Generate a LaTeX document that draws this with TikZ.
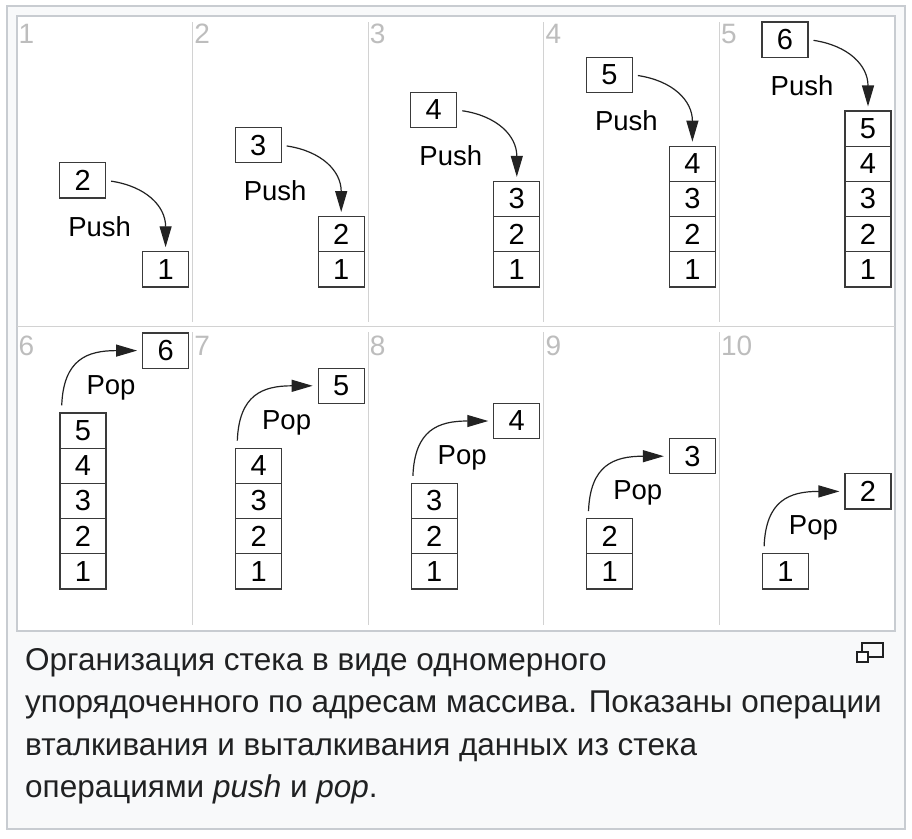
\documentclass[tikz,border=0pt]{standalone}
\usepackage{fontspec}
\setmainfont{Liberation Sans}
\usetikzlibrary{arrows.meta}
\definecolor{capbg}{HTML}{F8F9FA}
\definecolor{framec}{HTML}{C8CCD1}
\definecolor{divc}{HTML}{D2D2D2}
\definecolor{numc}{HTML}{BDBDBD}
\definecolor{ink}{HTML}{202122}
\definecolor{boxc}{HTML}{3A3A3A}
\definecolor{arrc}{HTML}{222222}
\begin{document}
\begin{tikzpicture}[x=1pt,y=-1pt,
  cell/.style={draw=boxc, line width=1.1pt, minimum width=46pt, minimum height=35.2pt, inner sep=0pt, font=\fontsize{29}{30}\selectfont, text=black},
  oparrow/.style={draw=arrc, line width=1.2pt, -{Triangle[length=21pt,width=12pt]}},
  oplabel/.style={anchor=base, inner sep=0pt, font=\fontsize{27.5}{30}\selectfont, text=black},
  panelnum/.style={anchor=base west, inner sep=0pt, text=numc, font=\fontsize{28}{30}\selectfont},
  divider/.style={draw=divc, line width=1pt},
  captext/.style={anchor=base west, inner sep=0pt, text=ink, font=\fontsize{31.5}{36}\selectfont}
]
\useasboundingbox (0,0) rectangle (912,838);
\fill[white] (0,0) rectangle (912,838);
\filldraw[fill=capbg, draw=framec, line width=2pt] (7,6) rectangle (905,829);
\filldraw[fill=white, draw=framec, line width=1.5pt] (17,16) rectangle (895,631);
% dividers
\draw[divider] (17,326) -- (895,326);
\foreach \k in {1,...,4}{
  \draw[divider] (17+175.6*\k,22) -- (17+175.6*\k,322);
  \draw[divider] (17+175.6*\k,332) -- (17+175.6*\k,625);
}
% push panels
\foreach \k in {1,...,5}{
  \pgfmathsetmacro\L{17+175.6*(\k-1)}
  \pgfmathsetmacro\R{\L+175.6}
  \node[panelnum] (num\k) at (\L+1.5,43) {\k};
  \foreach \i in {1,...,\k}{
    \node[cell] (push\k-\i) at (\R-27, 287-35.2*\i+17.6) {\i};
  }
  \pgfmathtruncatemacro\nv{\k+1}
  \node[cell] (push\k-n) at (\R-110, 287-35.2*\k-89+17.6) {\nv};
  \node[oplabel] (push\k-lab) at (\R-93, 287-35.2*\k-89+35.2+38) {Push};
  \draw[oparrow, shorten <=5pt, shorten >=4pt] (push\k-n.east) .. controls +(40,6) and +(0,-45) .. (push\k-\k.north);
}
% pop panels
\foreach \k in {1,...,5}{
  \pgfmathsetmacro\L{17+175.6*(\k-1)}
  \pgfmathsetmacro\R{\L+175.6}
  \pgfmathtruncatemacro\pn{\k+5}
  \pgfmathtruncatemacro\cnt{6-\k}
  \node[panelnum] (num\pn) at (\L+1.5,355) {\pn};
  \foreach \i in {1,...,\cnt}{
    \node[cell] (pop\k-\i) at (\L+66, 589-35.2*\i+17.6) {\i};
  }
  \pgfmathtruncatemacro\pv{\cnt+1}
  \node[cell] (pop\k-n) at (\R-27, 589-35.2*\cnt-80+17.6) {\pv};
  \node[oplabel] (pop\k-lab) at (\L+94, 589-35.2*\cnt-19) {Pop};
  \draw[oparrow, shorten <=7pt, shorten >=5pt] ([xshift=2pt]pop\k-\cnt.north west) .. controls +(2,-53) and +(-55,0) .. (pop\k-n.west);
}
% caption
\node[captext] (cap1) at (25,670) {Организация стека в виде одномерного};
\node[captext] (cap2) at (25,712.5) {упорядоченного по адресам массива. Показаны операции};
\node[captext] (cap3) at (25,755) {вталкивания и выталкивания данных из стека};
\node[captext] (cap4) at (25,797.5) {операциями \textit{push} и \textit{pop}.};
% enlarge icon
\draw[draw=ink, line width=1.5pt] (862,643) rectangle (883,657);
\filldraw[fill=white, draw=ink, line width=1.5pt] (857,652) rectangle (868,662);
\end{tikzpicture}
\end{document}
